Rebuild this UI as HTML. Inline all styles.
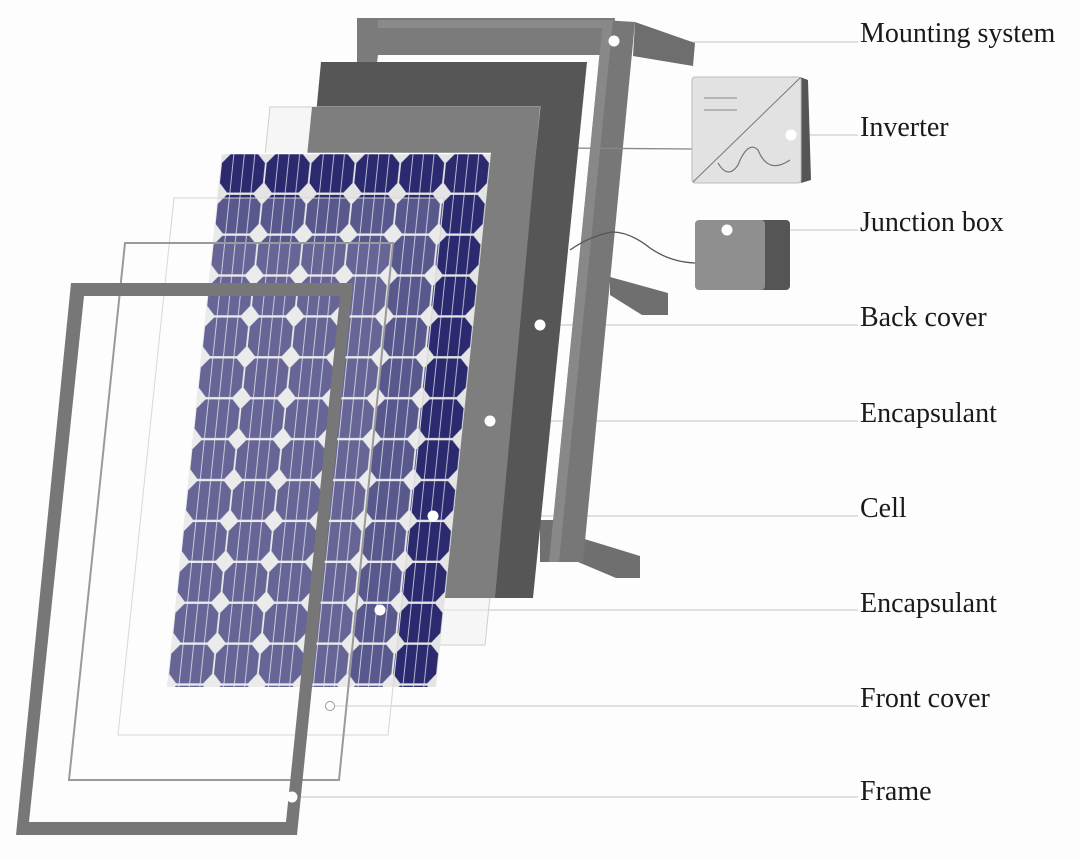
<!DOCTYPE html>
<html><head><meta charset="utf-8"><style>
html,body{margin:0;padding:0;background:#fdfdfd;}
svg{display:block;}
text{font-family:"Liberation Serif",serif;font-size:28px;fill:#1a1a1a;}
</style></head><body>
<svg width="1080" height="859" viewBox="0 0 1080 859" xmlns="http://www.w3.org/2000/svg">
<defs>
<pattern id="cells" patternUnits="userSpaceOnUse" width="44.8" height="40.9">
<rect width="44.8" height="40.9" fill="#e4e4e4"/>
<polygon points="9,1 36,1 44,10 44,30 36,39.5 9,39.5 1,30 1,10" fill="#2b2a6e"/>
<line x1="12" y1="1" x2="12" y2="40" stroke="#c8c8e0" stroke-width="0.9"/>
<line x1="22.5" y1="1" x2="22.5" y2="40" stroke="#c8c8e0" stroke-width="0.9"/>
<line x1="33" y1="1" x2="33" y2="40" stroke="#c8c8e0" stroke-width="0.9"/>
</pattern>
</defs>
<rect width="1080" height="859" fill="#fdfdfd"/>

<!-- leader lines -->
<g stroke="#cfcfcf" stroke-width="1.3">
<line x1="614" y1="42" x2="858" y2="42"/>
<line x1="791" y1="135" x2="858" y2="135"/>
<line x1="727" y1="230" x2="858" y2="230"/>
<line x1="540" y1="325" x2="858" y2="325"/>
<line x1="490" y1="421" x2="858" y2="421"/>
<line x1="433" y1="516" x2="858" y2="516"/>
<line x1="380" y1="610" x2="858" y2="610"/>
<line x1="330" y1="706" x2="858" y2="706"/>
<line x1="292" y1="797" x2="858" y2="797"/>
</g>

<!-- mounting system -->
<polygon points="357,18 615,18 612,55 378,55 376,70 357,70" fill="#7b7b7b"/>
<polygon points="378,20 612,20 611,28 378,28" fill="#8a8a8a"/>
<polygon points="635,22 695,43 693,66 633,56" fill="#6e6e6e"/>
<polygon points="610,277 668,293 668,315 642,315 610,295" fill="#6f6f6f"/>
<polygon points="578,537 640,556 640,578 616,578 578,562" fill="#6f6f6f"/>
<polygon points="540,520 560,520 560,562 540,562" fill="#707070"/>
<polygon points="603,20 635,22 583,562 549,562" fill="#777"/>
<polygon points="603,20 613,20 559,562 549,562" fill="#888"/>

<!-- inverter wire -->
<line x1="560" y1="148" x2="692" y2="149" stroke="#888" stroke-width="1.3"/>
<!-- junction wire -->
<path d="M570,250 Q590,236 612,232 Q630,232 650,248 Q670,262 695,263" fill="none" stroke="#555" stroke-width="1.3"/>

<!-- back cover -->
<polygon points="321,62 587,62 533,598 270,598" fill="#565656"/>
<!-- faint sheet (lower encapsulant) -->
<polygon points="270,107 540,107 485,645 214,645" fill="#f0f0f0" fill-opacity="0.5" stroke="#cfcfcf" stroke-width="1"/>
<!-- encapsulant gray -->
<polygon points="312,107 540,107 495,598 262,598" fill="#7e7e7e"/>

<!-- cells -->
<g transform="translate(222,153) skewX(-5.9)">
<rect x="0" y="0" width="269" height="534" fill="url(#cells)"/>
<line x1="0" y1="0.5" x2="269" y2="0.5" stroke="#fff" stroke-width="1.5"/>
</g>

<!-- front cover sheet -->
<polygon points="174,198 444,198 388,735 118,735" fill="#ffffff" fill-opacity="0.22" stroke="#d5d5d5" stroke-width="1"/>
<!-- outlined sheet -->
<polygon points="125,243 393,243 339,780 69,780" fill="#ffffff" fill-opacity="0.08" stroke="#9a9a9a" stroke-width="2"/>

<!-- frame -->
<path d="M71,283 L353,283 L297,835 L16,835 Z M84,296 L340,296 L286,822 L29,822 Z" fill="#777" fill-rule="evenodd"/>

<!-- inverter -->
<polygon points="800,77 808,80 811,180 801,183" fill="#555"/>
<rect x="692" y="77" width="109" height="106" rx="3" fill="#e2e2e2" stroke="#bbb" stroke-width="1"/>
<line x1="693" y1="182" x2="800" y2="78" stroke="#777" stroke-width="1"/>
<line x1="704" y1="98" x2="737" y2="98" stroke="#888" stroke-width="1"/>
<line x1="704" y1="110" x2="737" y2="110" stroke="#888" stroke-width="1"/>
<path d="M718,163 Q728,180 738,165 Q748,140 758,150 Q768,175 790,160" fill="none" stroke="#777" stroke-width="1.2"/>

<!-- junction box -->
<rect x="742" y="220" width="48" height="70" rx="4" fill="#555"/>
<rect x="695" y="220" width="70" height="70" rx="4" fill="#8f8f8f"/>

<!-- dots -->
<g fill="#ffffff">
<circle cx="614" cy="41" r="5.5"/>
<circle cx="791" cy="135" r="5.5"/>
<circle cx="727" cy="230" r="5.5"/>
<circle cx="540" cy="325" r="5.5"/>
<circle cx="490" cy="421" r="5.5"/>
<circle cx="433" cy="516" r="5.5"/>
<circle cx="380" cy="610" r="5.5"/>
<circle cx="292" cy="797" r="5.5"/>
</g>
<circle cx="330" cy="706" r="4.5" fill="#fff" stroke="#999" stroke-width="1"/>

<!-- labels -->
<text x="860" y="42">Mounting system</text>
<text x="860" y="136">Inverter</text>
<text x="860" y="231">Junction box</text>
<text x="860" y="326">Back cover</text>
<text x="860" y="422">Encapsulant</text>
<text x="860" y="517">Cell</text>
<text x="860" y="612">Encapsulant</text>
<text x="860" y="707">Front cover</text>
<text x="860" y="800">Frame</text>
</svg>
</body></html>
